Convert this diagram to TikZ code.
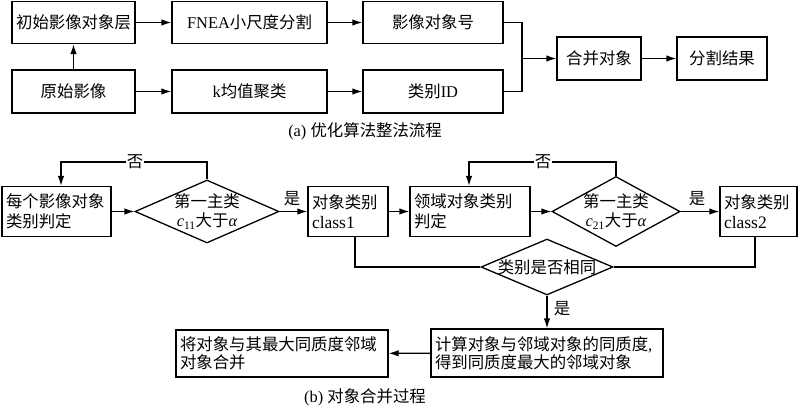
\documentclass[tikz,border=0pt]{standalone}
\usepackage{fontspec}
\setmainfont{Liberation Serif}
\newfontfamily\cjk{Noto Sans CJK SC}
\newcommand\zh[1]{{\cjk #1}}
\usetikzlibrary{arrows.meta,shapes.geometric}
\tikzset{
  base/.style={draw, line width=1.3pt, font=\fontsize{16.4}{20.5}\selectfont},
  box/.style={base, rectangle, inner sep=0pt, align=center},
  tbox/.style={base, rectangle, inner xsep=4pt, inner ysep=0pt, align=left},
  dia/.style={base, diamond, aspect=2.4, inner sep=-8pt, align=center, font=\fontsize{16.4}{19}\selectfont},
  arr/.style={line width=1.3pt, -{Latex[length=10pt,width=6.5pt]}},
  ln/.style={line width=1.3pt},
  lab/.style={font=\fontsize{16.4}{20}\selectfont, inner sep=1pt},
}
\begin{document}
\begin{tikzpicture}[x=1pt,y=-1pt]
\useasboundingbox (0,0) rectangle (800,406);
% ---------- (a)
\node[box, minimum width=123pt, minimum height=42pt] (a1) at (73.5,22.5) {\zh{初始影像对象层}};
\node[box, minimum width=155pt, minimum height=42pt] (a2) at (249.5,22.5) {FNEA\zh{小尺度分割}};
\node[box, minimum width=140pt, minimum height=42pt] (a3) at (433,22.5) {\zh{影像对象号}};
\node[box, minimum width=123pt, minimum height=43pt] (b1) at (73.5,91.5) {\zh{原始影像}};
\node[box, minimum width=155pt, minimum height=43pt] (b2) at (249.5,91.5) {k\zh{均值聚类}};
\node[box, minimum width=140pt, minimum height=43pt] (b3) at (433,91.5) {\zh{类别}ID};
\node[box, minimum width=84pt, minimum height=43pt] (m) at (599,58.5) {\zh{合并对象}};
\node[box, minimum width=90pt, minimum height=43pt] (r) at (722,58.5) {\zh{分割结果}};
\coordinate (jn) at (522,58.5);
\draw[arr] (a1) -- (a2);
\draw[arr] (a2) -- (a3);
\draw[arr] (b1) -- (b2);
\draw[arr] (b2) -- (b3);
\draw[arr] (b1) -- (a1);
\draw[ln] (a3.east) -| (jn);
\draw[ln] (b3.east) -| (jn);
\draw[arr] (jn) -- (m);
\draw[arr] (m) -- (r);
\node[lab] (capa) at (365,131) {(a) \zh{优化算法整法流程}};
% ---------- (b)
\node[tbox, text width=101pt, minimum height=50pt] (c1) at (56.5,211.5) {\zh{每个影像对象}\\\zh{类别判定}};
\node[dia, minimum width=144pt, minimum height=63pt] (d1) at (207,211.5) {\zh{第一主类}\\{\itshape c}\textsubscript{11}\zh{大于}{\itshape α}};
\node[tbox, text width=72pt, minimum height=50pt] (c2) at (348,211.5) {\zh{对象类别}\\{\fontsize{17.5}{20}\selectfont class1}};
\node[tbox, text width=112pt, minimum height=50pt] (c3) at (470,211.5) {\zh{领域对象类别}\\\zh{判定}};
\node[dia, minimum width=128pt, minimum height=70pt] (d2) at (616,211.5) {\zh{第一主类}\\{\itshape c}\textsubscript{21}\zh{大于}{\itshape α}};
\node[tbox, text width=69pt, minimum height=50pt] (c4) at (758.5,211.5) {\zh{对象类别}\\{\fontsize{17.5}{20}\selectfont class2}};
\node[dia, minimum width=132pt, minimum height=56pt] (d3) at (547,267) {\zh{类别是否相同}};
\node[tbox, text width=224pt, minimum height=48pt, font=\fontsize{16.4}{18.5}\selectfont] (c5) at (547,353) {\zh{计算对象与邻域对象的同质度},\\\zh{得到同质度最大的邻域对象}};
\node[tbox, text width=204pt, minimum height=47pt, font=\fontsize{16.4}{18.5}\selectfont] (c6) at (282,353.5) {\zh{将对象与其最大同质度邻域}\\\zh{对象合并}};
\coordinate (k1) at (61,162);
\coordinate (k2) at (469,162);
\draw[arr] (c1) -- (d1);
\draw[arr] (d1) -- (c2);
\draw[arr] (c2) -- (c3);
\draw[arr] (c3) -- (d2);
\draw[arr] (d2) -- (c4);
\draw[arr] (d1.north) |- (k1) -- (k1 |- c1.north);
\draw[arr] (d2.north) |- (k2) -- (k2 |- c3.north);
\draw[ln] ([xshift=7pt]c2.south) |- (d3.west);
\draw[ln] ([xshift=-3.5pt]c4.south) |- (d3.east);
\draw[arr] (d3.south) -- (c5.north);
\draw[arr] (c5) -- (c6);
\node[lab, fill=white] (n1) at (135,162) {\zh{否}};
\node[lab, fill=white] (n2) at (543,162) {\zh{否}};
\node[lab] (y1) at (292,199) {\zh{是}};
\node[lab] (y2) at (697,199) {\zh{是}};
\node[lab] (y3) at (562,309) {\zh{是}};
\node[lab] (capb) at (365,397) {(b) \zh{对象合并过程}};
\end{tikzpicture}
\end{document}
